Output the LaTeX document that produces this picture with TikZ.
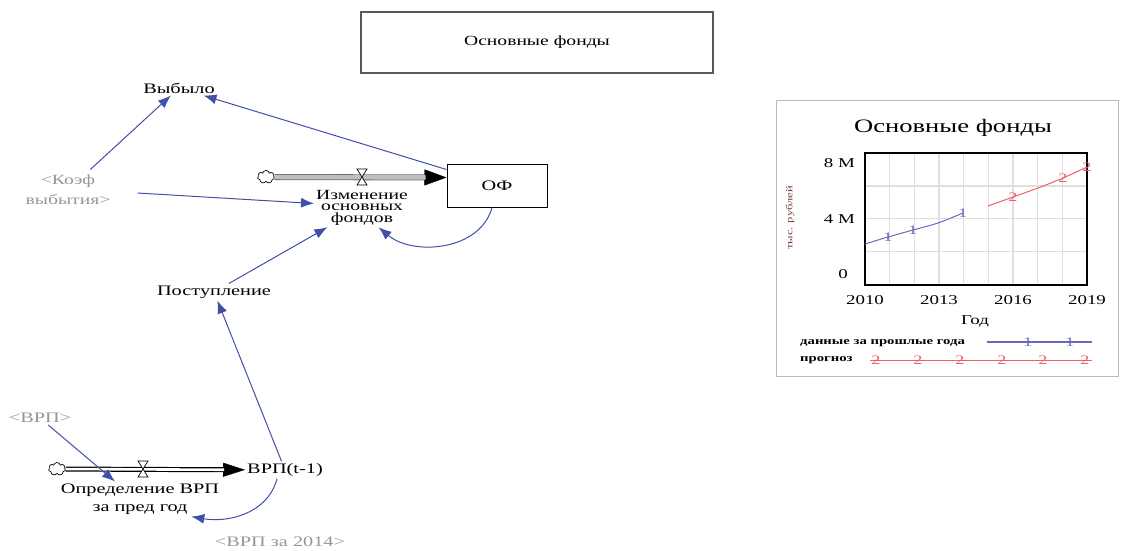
\documentclass[tikz,border=0pt]{standalone}
\usepackage{fontspec}
\setmainfont{Liberation Serif}[FakeStretch=1.4]
\usetikzlibrary{arrows.meta,shapes.symbols}

\definecolor{linkblue}{RGB}{64,80,168}
\definecolor{ghost}{RGB}{150,150,150}
\definecolor{plotblue}{RGB}{105,105,190}
\definecolor{plotred}{RGB}{240,95,105}
\definecolor{unitbrown}{RGB}{120,60,50}

\tikzset{
  link/.style={linkblue, line width=1pt, -{Latex[length=13pt,width=10pt]}},
  lbl/.style={font=\fontsize{14.5}{15}\selectfont, inner sep=2pt},
  ghostlbl/.style={lbl, text=ghost},
  cloudnode/.style={cloud, cloud puffs=7, draw, line width=0.7pt, minimum width=17pt, minimum height=13pt, inner sep=0pt},
  stockbox/.style={draw, line width=1pt, minimum width=100pt, minimum height=43pt},
  valve/.pic={\draw[fill=white, line width=0.7pt] (-5,-8) -- (5,-8) -- (-5,8) -- (5,8) -- cycle;},
  ticklbl/.style={font=\fontsize{13.5}{15}\selectfont, inner sep=1pt},
  marker/.style={font=\fontsize{13}{13}\selectfont, inner sep=0pt},
  legendtxt/.style={font=\fontsize{10.5}{11}\selectfont\bfseries, inner sep=0pt},
}

\begin{document}
\begin{tikzpicture}[x=1pt, y=-1pt]
  \useasboundingbox (0,0) rectangle (1126,550);

  % title box
  \node[stockbox, minimum width=352pt, minimum height=61pt, draw=gray!70!black, line width=1.3pt,
        font=\fontsize{14}{15}\selectfont] (titlebox) at (537,42.5) {Основные фонды};

  % stock and flow part
  \node[lbl] (vybylo) at (179,88) {Выбыло};
  \node[ghostlbl, align=center, font=\fontsize{14}{20}\selectfont] (koef) at (68,190) {<Коэф\\выбытия>};
  \node[cloudnode] (cloudA) at (266,177) {};
  \coordinate (valveA) at (362,177);
  \node[stockbox] (of) at (497,185.5) {\fontsize{14.5}{15}\selectfont ОФ};
  \node[lbl, align=center, font=\fontsize{14}{11.5}\selectfont] (izm) at (362,207.5) {Изменение\\основных\\фондов};
  \node[lbl] (postup) at (214,292) {Поступление};

  \node[ghostlbl] (vrp) at (40,418) {<ВРП>};
  \node[cloudnode] (cloudB) at (57,469) {};
  \coordinate (valveB) at (143,469);
  \node[lbl] (vrpt) at (285,470) {ВРП(t-1)};
  \node[lbl, align=center, font=\fontsize{14.5}{18}\selectfont] (opr) at (140,499) {Определение ВРП\\за пред год};
  \node[ghostlbl] (vrpold) at (280,542) {<ВРП за 2014>};

  % pipes
  \draw[line width=6pt, gray!85!black, -{Triangle[length=22pt,width=16pt,line width=0.4pt,color=black]}]
    (cloudA) -- ([yshift=8pt]of.west);
  \draw[line width=4.4pt, gray!50, shorten >=21pt] (cloudA) -- ([yshift=8pt]of.west);
  \pic at (valveA) {valve};

  \draw[line width=5pt, -{Triangle[length=22pt,width=14pt,line width=0.4pt]}] (cloudB) -- (vrpt);
  \draw[white, line width=2.6pt, shorten >=21pt] (cloudB) -- (vrpt);
  \pic at (valveB) {valve};

  % links
  \draw[link] ([yshift=-6pt]of.north west) -- (vybylo);
  \draw[link, shorten <=5pt] (koef) -- (vybylo);
  \draw[link] ([xshift=25pt,yshift=-3pt]koef.east) -- ([yshift=4pt]izm.west);
  \draw[link] (postup) -- (izm);
  \draw[link] ([xshift=-5pt]of.south) to[out=-105,in=-40] (izm.-50);
  \draw[link] (vrpt) -- (postup);
  \draw[link] (vrp) -- ([xshift=-25pt]opr.north);
  \draw[link] ([xshift=-8pt]vrpt.south) to[out=-105,in=-10] ([xshift=-30pt]opr.south east);

  % chart
  \draw[gray!55, line width=1pt] (776,100) rectangle (1118,376);
  \node[font=\fontsize{19}{20}\selectfont] (charttitle) at (953,128) {Основные фонды};
  \foreach \i in {1,...,8}
    \draw[gray!25, line width=1.2pt] ({865+\i*24.67},153) -- ({865+\i*24.67},285);
  \foreach \y in {186,218.5,251.5}
    \draw[gray!25, line width=1.2pt] (865,\y) -- (1087,\y);
  \draw[line width=1.6pt] (865,153) rectangle (1087,285);
  \node[ticklbl, anchor=east] at (856,163) {8 M};
  \node[ticklbl, anchor=east] at (856,219) {4 M};
  \node[ticklbl, anchor=east] at (849,274) {0};
  \foreach \x/\yr in {865/2010, 939/2013, 1013/2016, 1087/2019}
    \node[ticklbl] at (\x,300) {\yr};
  \node[ticklbl] at (975,321) {Год};
  \node[font=\fontsize{9}{10}\selectfont, text=unitbrown, rotate=90, inner sep=0pt] at (790,218) {тыс. рублей};

  \draw[plotblue, line width=1pt] plot[smooth] coordinates {(865,244) (888,237) (913,230) (938,223) (963,213)};
  \foreach \x/\y in {888/237, 913/230, 963/213}
    \node[marker, text=plotblue] at (\x,\y) {1};
  \draw[plotred, line width=1pt] plot[smooth] coordinates {(988,206) (1013,197) (1038,188) (1063,178) (1087,167)};
  \foreach \x/\y in {1013/197, 1063/178, 1087/167}
    \node[marker, text=plotred] at (\x,\y) {2};

  % legend
  \node[legendtxt, anchor=west] at (800,343) {данные за прошлые года};
  \draw[plotblue, line width=1.2pt] (987,342) -- (1092,342);
  \foreach \x in {1028,1070}
    \node[marker, text=plotblue] at (\x,342) {1};
  \node[legendtxt, anchor=west] at (800,360) {прогноз};
  \draw[plotred, line width=1pt] (870,360) -- (1092,360);
  \foreach \x in {876,918,960,1002,1043,1085}
    \node[marker, text=plotred] at (\x,360) {2};
\end{tikzpicture}
\end{document}
